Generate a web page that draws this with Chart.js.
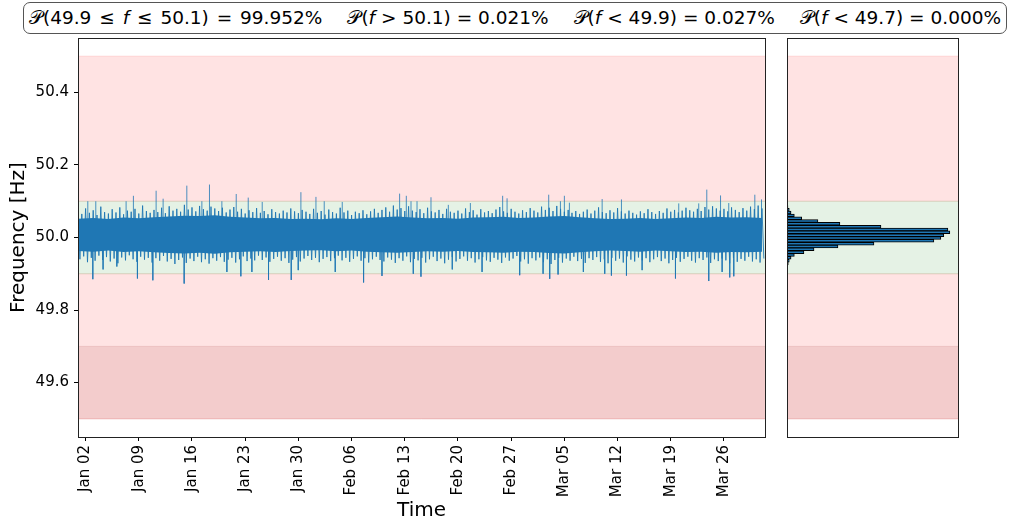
<!DOCTYPE html>
<html>
<head>
<meta charset="utf-8">
<script src="https://cdn.jsdelivr.net/npm/chart.js@4.4.0/dist/chart.umd.min.js"></script>
<style>
  body { margin: 0; background: #fff; }
  #wrap { position: relative; width: 1011px; height: 527px; overflow: hidden; }
  #wrap canvas { position: absolute; left: 0; top: 0; }
  #title {
    position: absolute; left: 23px; top: 2px; width: 984px; height: 32px;
    box-sizing: border-box; border: 1px solid #555; border-radius: 7px; background: #fff;
    font-family: 'DejaVu Sans'; font-size: 18.5px; line-height: 30px; text-align: center;
    white-space: pre; color: #000; z-index: 2;
  }
  #title span + span { margin-left: 25px; }
  #title span:first-child { word-spacing: 2px; }
</style>
</head>
<body>
<div id="wrap">
  <canvas id="main" width="1011" height="527"></canvas>
  <canvas id="hist" width="1011" height="527"></canvas>
  <div id="title"><span>𝒫(49.9 ≤ <i>f</i> ≤ 50.1) = 99.952%</span><span>𝒫(<i>f</i> &gt; 50.1) = 0.021%</span><span>𝒫(<i>f</i> &lt; 49.9) = 0.027%</span><span>𝒫(<i>f</i> &lt; 49.7) = 0.000%</span></div>
</div>
<script>
// x values are days since Jan 01 (leap year)
const tickDays = [1, 8, 15, 22, 29, 36, 43, 50, 57, 64, 71, 78, 85];
const tickLabels = ['Jan 02', 'Jan 09', 'Jan 16', 'Jan 23', 'Jan 30', 'Feb 06', 'Feb 13',
                    'Feb 20', 'Feb 27', 'Mar 05', 'Mar 12', 'Mar 19', 'Mar 26'];
const yTicks = [49.6, 49.8, 50.0, 50.2, 50.4];

// shaded bands [Hz]
const bandFrom = [49.5, 50.1, 49.9, 49.5];
const bandTo = [49.9, 50.5, 50.1, 49.7];

// dense core of the signal, one value every 2 days
const coreStep = 2;
const coreHi = [50.052, 50.054, 50.051, 50.055, 50.053, 50.056, 50.058, 50.060, 50.059, 50.061,
                50.057, 50.055, 50.053, 50.054, 50.051, 50.052, 50.050, 50.053, 50.051, 50.054,
                50.056, 50.058, 50.055, 50.053, 50.054, 50.052, 50.055, 50.056, 50.057, 50.054,
                50.055, 50.058, 50.059, 50.056, 50.053, 50.051, 50.052, 50.054, 50.051, 50.053,
                50.055, 50.054, 50.057, 50.055, 50.056, 50.054];
const coreLo = [49.963, 49.961, 49.964, 49.960, 49.962, 49.959, 49.957, 49.956, 49.958, 49.955,
                49.959, 49.961, 49.962, 49.960, 49.963, 49.964, 49.965, 49.962, 49.964, 49.961,
                49.959, 49.958, 49.960, 49.962, 49.961, 49.963, 49.960, 49.959, 49.958, 49.961,
                49.960, 49.957, 49.956, 49.959, 49.962, 49.964, 49.963, 49.961, 49.964, 49.962,
                49.960, 49.961, 49.958, 49.960, 49.959, 49.961];

// outer envelope: a maximum every half day, a minimum a quarter day later
const envStep = 0.5;
const envHi = [
  50.072, 50.065, 50.080, 50.068, 50.075, 50.062, 50.085, 50.070, 50.066, 50.078,
  50.069, 50.083, 50.064, 50.074, 50.071, 50.079, 50.066, 50.088, 50.073, 50.068,
  50.076, 50.070, 50.082, 50.067, 50.086, 50.074, 50.079, 50.071, 50.090, 50.077,
  50.083, 50.072, 50.087, 50.078, 50.074, 50.085, 50.080, 50.073, 50.082, 50.069,
  50.077, 50.084, 50.071, 50.079, 50.066, 50.075, 50.070, 50.081, 50.068, 50.073,
  50.064, 50.078, 50.070, 50.066, 50.074, 50.069, 50.080, 50.072, 50.067, 50.076,
  50.071, 50.065, 50.079, 50.068, 50.073, 50.063, 50.077, 50.070, 50.066, 50.082,
  50.069, 50.074, 50.062, 50.071, 50.067, 50.075, 50.064, 50.072, 50.079, 50.068,
  50.076, 50.083, 50.071, 50.088, 50.077, 50.081, 50.073, 50.086, 50.074, 50.070,
  50.078, 50.067, 50.082, 50.072, 50.069, 50.076, 50.065, 50.079, 50.071, 50.068,
  50.074, 50.066, 50.080, 50.070, 50.075, 50.063, 50.078, 50.069, 50.073, 50.067,
  50.077, 50.084, 50.072, 50.068, 50.079, 50.071, 50.066, 50.075, 50.070, 50.081,
  50.074, 50.069, 50.085, 50.076, 50.082, 50.073, 50.087, 50.079, 50.071, 50.076,
  50.068, 50.073, 50.065, 50.071, 50.077, 50.066, 50.074, 50.083, 50.070, 50.067,
  50.075, 50.069, 50.081, 50.072, 50.066, 50.074, 50.068, 50.063, 50.072, 50.067,
  50.078, 50.070, 50.065, 50.073, 50.068, 50.080, 50.071, 50.076, 50.069, 50.074,
  50.082, 50.075, 50.071, 50.079, 50.073, 50.084, 50.077, 50.086, 50.080, 50.074,
  50.079, 50.072, 50.083, 50.076, 50.070, 50.081, 50.074, 50.085, 50.078, 50.088,
  50.080];
const envLo = [
  49.940, 49.948, 49.932, 49.944, 49.936, 49.950, 49.938, 49.946, 49.934, 49.942,
  49.929, 49.945, 49.937, 49.951, 49.940, 49.933, 49.947, 49.939, 49.944, 49.931,
  49.943, 49.936, 49.949, 49.934, 49.941, 49.927, 49.938, 49.945, 49.930, 49.942,
  49.935, 49.947, 49.932, 49.940, 49.928, 49.943, 49.936, 49.946, 49.933, 49.939,
  49.944, 49.931, 49.940, 49.948, 49.935, 49.942, 49.937, 49.950, 49.938, 49.945,
  49.933, 49.941, 49.947, 49.936, 49.943, 49.930, 49.939, 49.946, 49.934, 49.942,
  49.949, 49.938, 49.944, 49.932, 49.941, 49.946, 49.935, 49.943, 49.950, 49.937,
  49.944, 49.933, 49.941, 49.948, 49.936, 49.943, 49.931, 49.940, 49.947, 49.938,
  49.934, 49.945, 49.939, 49.930, 49.943, 49.936, 49.948, 49.932, 49.941, 49.937,
  49.944, 49.931, 49.940, 49.947, 49.935, 49.942, 49.929, 49.939, 49.946, 49.934,
  49.941, 49.948, 49.936, 49.943, 49.931, 49.940, 49.946, 49.937, 49.933, 49.944,
  49.939, 49.930, 49.945, 49.936, 49.942, 49.949, 49.934, 49.940, 49.928, 49.943,
  49.937, 49.945, 49.932, 49.940, 49.927, 49.938, 49.944, 49.931, 49.942, 49.936,
  49.947, 49.935, 49.941, 49.930, 49.943, 49.938, 49.946, 49.933, 49.940, 49.929,
  49.944, 49.936, 49.942, 49.931, 49.948, 49.939, 49.934, 49.945, 49.937, 49.943,
  49.932, 49.940, 49.946, 49.935, 49.942, 49.929, 49.938, 49.944, 49.933, 49.941,
  49.947, 49.936, 49.931, 49.943, 49.938, 49.945, 49.930, 49.940, 49.935, 49.942,
  49.937, 49.929, 49.944, 49.933, 49.941, 49.936, 49.947, 49.934, 49.940, 49.931,
  49.942];

// isolated large excursions
const spikeDay = [1.29, 2.34, 6.33, 7.29, 10.28, 11.20, 14.32, 16.30, 17.30, 18.93, 20.82, 22.40,
                  24.24, 29.33, 31.31, 32.40, 34.77, 42.32, 43.20, 43.82, 44.61, 46.45, 48.73,
                  51.63, 55.88, 56.46, 61.94, 63.48, 64.00, 64.66, 68.97, 71.51, 79.05, 81.68,
                  82.74, 84.55, 85.63, 89.06, 89.94,
                  1.95, 3.30, 5.11, 7.82, 9.85, 13.97, 19.59, 21.43, 22.88, 25.07, 28.06, 28.98,
                  33.85, 37.58, 40.00, 44.12, 45.13, 49.25, 53.17, 58.12, 61.20, 62.07, 63.17,
                  66.50, 69.31, 70.19, 72.17, 74.23, 78.62, 83.00, 84.76, 85.76, 86.29];
const spikeFreq = [50.100, 50.100, 50.100, 50.115, 50.129, 50.107, 50.143, 50.100, 50.146, 50.100,
                   50.120, 50.110, 50.098, 50.125, 50.112, 50.100, 50.098, 50.121, 50.115, 50.100,
                   50.100, 50.111, 50.090, 50.095, 50.115, 50.108, 50.118, 50.100, 50.115, 50.096,
                   50.106, 50.105, 50.094, 50.094, 50.132, 50.116, 50.095, 50.118, 50.105,
                   49.885, 49.912, 49.920, 49.887, 49.882, 49.873, 49.905, 49.893, 49.905, 49.883,
                   49.883, 49.910, 49.905, 49.876, 49.894, 49.900, 49.892, 49.912, 49.905, 49.896,
                   49.900, 49.886, 49.898, 49.905, 49.900, 49.895, 49.895, 49.910, 49.887, 49.880,
                   49.905, 49.890, 49.893];
const spikeBase = 50.0;

// histogram: bin centres [Hz] and bar lengths (percent of tallest bin)
const histBins = [50.0922, 50.0844, 50.0766, 50.0688, 50.0610, 50.0532, 50.0454, 50.0376, 50.0298,
                  50.0220, 50.0142, 50.0064, 49.9986, 49.9908, 49.9830, 49.9752, 49.9674, 49.9596,
                  49.9518, 49.9440, 49.9362, 49.9284, 49.9206, 49.9128, 49.9050, 49.8972];
const histCounts = [0.4, 0.6, 1.4, 2.5, 4.5, 9.0, 19.0, 32.5, 57.7, 98.8, 100, 96.3, 94.5, 90.2,
                    53.4, 31.3, 16.6, 10.4, 4.5, 2.5, 1.4, 0.8, 0.4, 0.25, 0.12, 0.06];

const bandColors = ['rgba(255,0,0,0.11)', 'rgba(255,0,0,0.11)', 'rgba(0,128,0,0.1)', 'rgba(139,0,0,0.1)'];
const blue = '#1f77b4';
const font = 'DejaVu Sans';

const bandsPlugin = {
    id: 'bands',
    beforeDatasetsDraw(chart) {
        const { ctx, chartArea: a, scales: { y } } = chart;
        ctx.save();
        ctx.beginPath();
        ctx.rect(a.left, a.top, a.right - a.left, a.bottom - a.top);
        ctx.clip();
        bandFrom.forEach((lo, i) => {
            const y1 = y.getPixelForValue(bandTo[i]);
            const y2 = y.getPixelForValue(lo);
            ctx.fillStyle = bandColors[i];
            ctx.fillRect(a.left, y1, a.right - a.left, y2 - y1);
            ctx.strokeStyle = bandColors[i];
            ctx.lineWidth = 1;
            ctx.beginPath();
            ctx.moveTo(a.left, y1); ctx.lineTo(a.right, y1);
            ctx.moveTo(a.left, y2); ctx.lineTo(a.right, y2);
            ctx.stroke();
        });
        ctx.restore();
    },
    afterDraw(chart) {
        const { ctx, chartArea: a } = chart;
        ctx.save();
        ctx.strokeStyle = '#222';
        ctx.lineWidth = 1;
        ctx.strokeRect(Math.round(a.left) + 0.5, Math.round(a.top) + 0.5,
                       Math.round(a.right - a.left), Math.round(a.bottom - a.top));
        ctx.restore();
    }
};

// vertical segments, broken by nulls
const segments = (xs, los, his) => {
    const out = [];
    xs.forEach((x, i) => {
        out.push({ x: x, y: los[i] }, { x: x, y: his[i] }, { x: x, y: null });
    });
    return out;
};

// zigzag through the envelope, like the raw trace
const zigzag = [];
envHi.forEach((v, i) => {
    zigzag.push({ x: i * envStep, y: v });
    zigzag.push({ x: i * envStep + envStep / 2, y: envLo[i] });
});

const coreDays = coreHi.map((v, i) => i * coreStep);

new Chart(document.getElementById('main'), {
    type: 'line',
    data: {
        datasets: [
            {
                data: coreDays.map((d, i) => ({ x: d, y: coreHi[i] })),
                borderWidth: 0, pointRadius: 0, fill: '+1', backgroundColor: blue
            },
            {
                data: coreDays.map((d, i) => ({ x: d, y: coreLo[i] })),
                borderWidth: 0, pointRadius: 0, fill: false
            },
            {
                data: zigzag,
                borderColor: 'rgba(31,119,180,0.9)', borderWidth: 1, pointRadius: 0
            },
            {
                data: segments(spikeDay, spikeDay.map(() => spikeBase), spikeFreq),
                borderColor: 'rgba(31,119,180,0.8)', borderWidth: 1, pointRadius: 0, spanGaps: false
            }
        ]
    },
    options: {
        responsive: false,
        animation: false,
        devicePixelRatio: 1,
        layout: { padding: { left: 0, top: 38, right: 246, bottom: 0 } },
        plugins: { legend: { display: false }, tooltip: { enabled: false } },
        scales: {
            x: {
                type: 'linear', min: 0, max: 90.4,
                afterBuildTicks: s => { s.ticks = tickDays.map(v => ({ value: v })); },
                afterFit: s => { s.height = 90; },
                ticks: {
                    font: { family: font, size: 15 }, color: '#000', autoSkip: false,
                    minRotation: 90, maxRotation: 90, padding: 4,
                    callback: (v, i) => tickLabels[i]
                },
                grid: { drawOnChartArea: false, tickLength: 4, tickColor: '#000' },
                border: { color: '#000' },
                title: {
                    display: true, text: 'Time', color: '#000',
                    font: { family: font, size: 20 }, padding: { top: 0, bottom: 4 }
                }
            },
            y: {
                type: 'linear', min: 49.45, max: 50.55,
                afterBuildTicks: s => { s.ticks = yTicks.map(v => ({ value: v })); },
                afterFit: s => { s.width = 78; },
                ticks: {
                    font: { family: font, size: 15 }, color: '#000', padding: 5,
                    callback: v => v.toFixed(1)
                },
                grid: { drawOnChartArea: false, tickLength: 4, tickColor: '#000' },
                border: { color: '#000' },
                title: {
                    display: true, text: 'Frequency [Hz]', color: '#000',
                    font: { family: font, size: 20 }, padding: { top: 7, bottom: 0 }
                }
            }
        }
    },
    plugins: [bandsPlugin]
});

new Chart(document.getElementById('hist'), {
    type: 'bar',
    data: {
        datasets: [{
            data: histBins.map((b, i) => ({ x: histCounts[i], y: b })),
            backgroundColor: blue, borderColor: '#000', borderWidth: 1, borderSkipped: false,
            barPercentage: 1, categoryPercentage: 1
        }]
    },
    options: {
        indexAxis: 'y',
        responsive: false,
        animation: false,
        devicePixelRatio: 1,
        layout: { padding: { left: 787, top: 38, right: 53, bottom: 90 } },
        plugins: { legend: { display: false }, tooltip: { enabled: false } },
        scales: {
            x: { type: 'linear', min: 0, max: 105, display: false },
            y: { type: 'linear', min: 49.45, max: 50.55, offset: false, display: false }
        }
    },
    plugins: [bandsPlugin]
});
</script>
</body>
</html>
